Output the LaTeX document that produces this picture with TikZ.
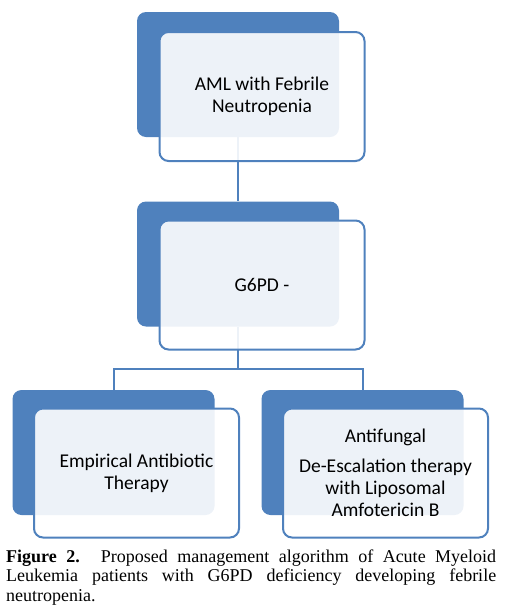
\documentclass[tikz,border=0pt]{standalone}
\usepackage{fontspec}
\setmainfont{Liberation Serif}
\newfontfamily\boxfont{Carlito}
\definecolor{smblue}{RGB}{79,129,189}
\begin{document}
\begin{tikzpicture}[x=1pt,y=1pt,
 backbox/.style={rectangle, rounded corners=9pt, fill=smblue, draw=none, minimum width=202pt, minimum height=125pt, inner sep=0pt},
 frontbox/.style={rectangle, rounded corners=9pt, draw=smblue, line width=2pt, fill=white, fill opacity=0.9, text opacity=1, minimum width=205pt, minimum height=129pt, align=center, text=black, font=\boxfont\fontsize{19.5}{22}\selectfont, inner sep=0pt},
 conn/.style={draw=smblue, line width=2pt}]
\useasboundingbox (0,0) rectangle (504,-611);
\node[backbox] (b1) at (238,-74.5) {};
\node[backbox] (b2) at (238,-264) {};
\node[backbox] (b3) at (113.5,-452.5) {};
\node[backbox] (b4) at (362.5,-452.5) {};
\coordinate (j) at (238,-369);
\draw[conn] (b1.south) -- (b2.north);
\draw[conn] (b2.south) -- (j);
\draw[conn] (b3.north) |- (j) -| (b4.north);
\node[frontbox] (f1) at (262,-96.5) {AML with Febrile\\Neutropenia};
\node[frontbox] (f2) at (262,-285) {G6PD -};
\node[frontbox] (f3) at (136.5,-473) {Empirical Antibiotic\\Therapy};
\node[frontbox] (f4) at (385.5,-473) {Antifungal\\[8pt]De-Escalation therapy\\with Liposomal\\Amfotericin B};
\node[anchor=base west, inner sep=0pt] (cap) at (6,-562) {\parbox[t]{490pt}{\hyphenpenalty=10000\fontsize{18}{19.5}\selectfont\textbf{Figure 2.} Proposed management algorithm of Acute Myeloid\linebreak Leukemia patients with G6PD deficiency developing febrile\linebreak neutropenia.}};
\end{tikzpicture}
\end{document}
